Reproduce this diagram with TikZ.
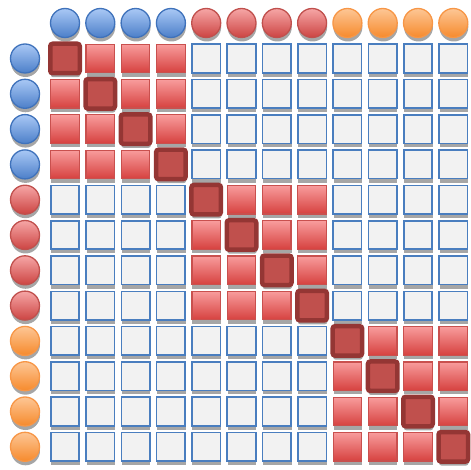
\documentclass[tikz,border=0pt]{standalone}
\usetikzlibrary{shadows}
\definecolor{cellblue}{HTML}{4A7EBF}
\definecolor{cellgray}{HTML}{F2F2F2}
\definecolor{redtop}{HTML}{F89C9C}
\definecolor{redbot}{HTML}{D6413F}
\definecolor{redline}{HTML}{C9504E}
\definecolor{diagfill}{HTML}{C0504D}
\definecolor{diagline}{HTML}{943634}
\definecolor{bluetop}{HTML}{A9C8F5}
\definecolor{bluebot}{HTML}{4C7FC9}
\definecolor{blueline}{HTML}{3F72BB}
\definecolor{rtop}{HTML}{F6A6A6}
\definecolor{rbot}{HTML}{CC4442}
\definecolor{rline}{HTML}{C0504D}
\definecolor{otop}{HTML}{FDC695}
\definecolor{obot}{HTML}{F68A2C}
\definecolor{oline}{HTML}{F79646}
\definecolor{shadowgray}{HTML}{A6A6A6}
\tikzset{
  shad/.style={drop shadow={shadow xshift=0.5pt, shadow yshift=-4pt, fill=shadowgray, opacity=1}},
  blankcell/.style={shad, rectangle, inner sep=0pt, minimum size=28.5pt, draw=cellblue, line width=1.6pt, fill=cellgray},
  redcell/.style={shad, rectangle, inner sep=0pt, minimum size=28.5pt, draw=redline, line width=1.2pt, top color=redtop, bottom color=redbot},
  diagcell/.style={shad, rectangle, inner sep=0pt, minimum size=29.5pt, draw=diagline, line width=4.5pt, fill=diagfill, rounded corners=2.5pt},
  ball/.style={shad, circle, inner sep=0pt, minimum size=29pt, line width=1.3pt},
  ball0/.style={ball, draw=blueline, top color=bluetop, bottom color=bluebot},
  ball1/.style={ball, draw=rline, top color=rtop, bottom color=rbot},
  ball2/.style={ball, draw=oline, top color=otop, bottom color=obot},
}
\begin{document}
\begin{tikzpicture}[x=1pt,y=-1pt]
\useasboundingbox (0,0) rectangle (471,470);
\foreach \k in {0,...,11}{
  \pgfmathtruncatemacro{\g}{int(\k/4)}
  \node[ball\g] (t-\k) at ({65+35.3*\k},23) {};
  \node[ball\g] (l-\k) at (25,{58.5+35.3*\k}) {};
}
\foreach \r in {0,...,11}{
  \foreach \c in {0,...,11}{
    \pgfmathtruncatemacro{\gr}{int(\r/4)}
    \pgfmathtruncatemacro{\gc}{int(\c/4)}
    \ifnum\r=\c
      \node[diagcell] (c-\r-\c) at ({65+35.3*\c},{58.5+35.3*\r}) {};
    \else\ifnum\gr=\gc
      \node[redcell] (c-\r-\c) at ({65+35.3*\c},{58.5+35.3*\r}) {};
    \else
      \node[blankcell] (c-\r-\c) at ({65+35.3*\c},{58.5+35.3*\r}) {};
    \fi\fi
  }
}
\end{tikzpicture}
\end{document}
